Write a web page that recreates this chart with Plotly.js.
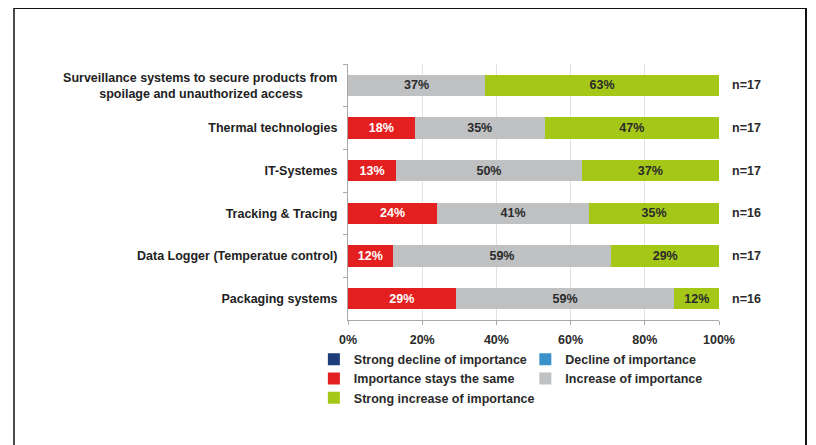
<!DOCTYPE html>
<html>
<head>
<meta charset="utf-8">
<script src="https://cdn.plot.ly/plotly-3.0.1.min.js"></script>
<style>
  html, body { margin: 0; padding: 0; background: #ffffff; overflow: hidden; }
  #wrap { position: relative; width: 816px; height: 445px; }
  #chart { width: 816px; height: 445px; }
  #frame { position: absolute; left: 13px; top: 8px; width: 790px; height: 470px;
           border-left: 2px solid #4a4a4a; border-top: 1.5px solid #111; border-right: 2px solid #111;
           pointer-events: none; }
</style>
</head>
<body>
<div id="wrap">
  <div id="chart"></div>
  <div id="frame"></div>
</div>
<script>
// ---- data ----
var categories = [
  "Surveillance systems to secure products from<br>spoilage and unauthorized access&nbsp;&nbsp;&nbsp;&nbsp;&nbsp;&nbsp;&nbsp;&nbsp;&nbsp;&nbsp;",
  "Thermal technologies",
  "IT-Systemes",
  "Tracking & Tracing",
  "Data Logger (Temperatue control)",
  "Packaging systems"
];
var strongDecline   = [0, 0, 0, 0, 0, 0];
var decline         = [0, 0, 0, 0, 0, 0];
var staysSame       = [0, 18, 13, 24, 12, 29];
var increase        = [37, 35, 50, 41, 59, 59];
var strongIncrease  = [63, 47, 37, 35, 29, 12];
var sampleSizes     = ["n=17", "n=17", "n=17", "n=16", "n=17", "n=16"];
var seriesNames = [
  "Strong decline of importance",
  "Decline of importance",
  "Importance stays the same",
  "Increase of importance",
  "Strong increase of importance"
];
var xTickVals   = [0, 20, 40, 60, 80, 100];
var xTickLabels = ["0%", "20%", "40%", "60%", "80%", "100%"];

// ---- styles ----
var FONT = "Liberation Sans, Arial, sans-serif";
var FS = 12.5;
var colors = ["#1f3d7a", "#3a92c9", "#e3201f", "#bfc1c3", "#a5c818"];
var textColors = ["#2a2a2a", "#2a2a2a", "#ffffff", "#2a2a2a", "#2a2a2a"];
var legendOf = ["legend", "legend2", "legend", "legend2", "legend"];

function labels(vals) {
  return vals.map(function (v) { return v > 0 ? "<b>" + v + "%</b>" : ""; });
}

var seriesValues = [strongDecline, decline, staysSame, increase, strongIncrease];
var traces = seriesValues.map(function (vals, i) {
  return {
    type: "bar",
    orientation: "h",
    name: "<b>" + seriesNames[i] + "</b>",
    y: categories,
    x: vals,
    text: labels(vals),
    textposition: "inside",
    insidetextanchor: "middle",
    textangle: 0,
    textfont: { family: FONT, size: FS, color: textColors[i] },
    marker: { color: colors[i], line: { width: 0 } },
    legend: legendOf[i],
    hoverinfo: "name+x"
  };
});

var annotations = categories.map(function (c, i) {
  return {
    xref: "paper", yref: "y",
    x: 1, y: c,
    xanchor: "left", yanchor: "middle",
    xshift: 11,
    text: "<b>" + sampleSizes[i] + "</b>",
    showarrow: false,
    font: { family: FONT, size: FS, color: "#2a2a2a" }
  };
});

var layout = {
  width: 816, height: 445,
  margin: { l: 348, r: 97, t: 64, b: 125, pad: 0 },
  paper_bgcolor: "#ffffff",
  plot_bgcolor: "#ffffff",
  barmode: "stack",
  bargap: 0.5,
  font: { family: FONT, size: FS, color: "#2a2a2a", weight: "bold" },
  xaxis: {
    range: [0, 100],
    tickmode: "array",
    tickvals: xTickVals,
    ticktext: xTickLabels,
    showgrid: true, gridcolor: "#e2e2e2", gridwidth: 1,
    showline: true, linecolor: "#a9a9a9", linewidth: 1,
    ticks: "outside", ticklen: 4, tickcolor: "#a9a9a9",
    ticklabelstandoff: 4,
    zeroline: false,
    tickfont: { family: FONT, size: FS, color: "#2a2a2a", weight: "bold" },
    fixedrange: true
  },
  yaxis: {
    type: "category",
    autorange: "reversed",
    showline: true, linecolor: "#a9a9a9", linewidth: 1,
    ticks: "outside", ticklen: 4, tickcolor: "#a9a9a9",
    tickson: "boundaries",
    showgrid: false,
    ticklabelstandoff: 7,
    tickfont: { family: FONT, size: FS, color: "#222222", weight: "bold" },
    fixedrange: true
  },
  annotations: annotations,
  showlegend: true,
  legend: {
    orientation: "v",
    traceorder: "normal",
    x: -0.092, xanchor: "left",
    y: -0.096, yanchor: "top",
    font: { family: FONT, size: FS, color: "#2a2a2a" },
    itemwidth: 30,
    tracegroupgap: 0,
    bgcolor: "rgba(0,0,0,0)"
  },
  legend2: {
    orientation: "v",
    traceorder: "normal",
    x: 0.478, xanchor: "left",
    y: -0.096, yanchor: "top",
    font: { family: FONT, size: FS, color: "#2a2a2a" },
    itemwidth: 30,
    tracegroupgap: 0,
    bgcolor: "rgba(0,0,0,0)"
  }
};

Plotly.newPlot("chart", traces, layout, { displayModeBar: false, staticPlot: true });
</script>
</body>
</html>
